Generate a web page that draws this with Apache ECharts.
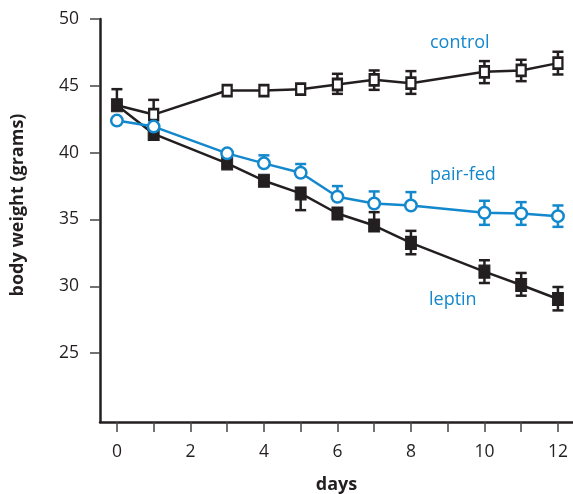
<!DOCTYPE html>
<html><head><meta charset="utf-8">
<script src="https://cdn.jsdelivr.net/npm/echarts@6/dist/echarts.min.js"></script>
<style>html,body{margin:0;padding:0;background:#fff}#c{width:573px;height:494px}</style>
</head><body><div id="c"></div>
<script>
// ---- data ----
const days = [0, 1, 3, 4, 5, 6, 7, 8, 10, 11, 12];

const controlMean    = [43.55, 42.85, 44.65, 44.65, 44.75, 45.1, 45.45, 45.2, 46.05, 46.15, 46.7];
const controlErrUp   = [0, 1.1, 0, 0, 0, 0.8, 0.7, 0.9, 0.8, 0.8, 0.85];
const controlErrDown = [0, 0, 0, 0, 0, 0.7, 0.75, 0.8, 0.85, 0.8, 0.85];

const leptinMean    = [43.55, 41.4, 39.2, 37.9, 36.95, 35.45, 34.55, 33.25, 31.1, 30.1, 29.05];
const leptinErrUp   = [1.2, 0, 0, 0, 0, 0, 1.0, 0.9, 0.85, 0.9, 0.9];
const leptinErrDown = [0, 0, 0, 0, 1.25, 0, 0, 0.85, 0.85, 0.8, 0.85];

const pairMean    = [42.4, 41.95, 39.95, 39.2, 38.5, 36.7, 36.2, 36.05, 35.5, 35.45, 35.25];
const pairErrUp   = [0, 0, 0, 0.6, 0.65, 0.8, 0.9, 1.0, 0.9, 0.85, 0.8];
const pairErrDown = [0, 0, 0, 0, 0, 0, 0, 0, 0.9, 0.85, 0.8];

const xTickValues  = [0, 1, 2, 3, 4, 5, 6, 7, 8, 9, 10, 11, 12];
const xLabelValues = [0, 2, 4, 6, 8, 10, 12];
const yTickValues  = [25, 30, 35, 40, 45, 50];

const seriesNames = ['control', 'pair-fed', 'leptin'];
const xAxisTitle = 'days';
const yAxisTitle = 'body weight (grams)';

// ---- styling ----
const BLACK = '#231f20';
const BLUE = '#1388cc';
const FONT = '"Open Sans", "Noto Sans", sans-serif';

const chart = echarts.init(document.getElementById('c'), null, {renderer: 'canvas'});

function pts(mean) { return days.map((d, i) => [d, mean[i]]); }
function errData(mean, up, down) { return days.map((d, i) => [d, mean[i], up[i], down[i]]); }

function errorSeries(data, color) {
  return {
    type: 'custom',
    z: 1,
    silent: true,
    data: data,
    encode: {x: 0, y: 1},
    renderItem: function (params, api) {
      const x = api.value(0), y = api.value(1), up = api.value(2), down = api.value(3);
      const c = api.coord([x, y]);
      const children = [];
      const half = 5.5;
      const st = {stroke: color, lineWidth: 2.5};
      if (up > 0) {
        const t = api.coord([x, y + up]);
        children.push({type: 'line', shape: {x1: c[0], y1: c[1], x2: t[0], y2: t[1]}, style: st});
        children.push({type: 'line', shape: {x1: t[0] - half, y1: t[1], x2: t[0] + half, y2: t[1]}, style: st});
      }
      if (down > 0) {
        const b = api.coord([x, y - down]);
        children.push({type: 'line', shape: {x1: c[0], y1: c[1], x2: b[0], y2: b[1]}, style: st});
        children.push({type: 'line', shape: {x1: b[0] - half, y1: b[1], x2: b[0] + half, y2: b[1]}, style: st});
      }
      return {type: 'group', children: children};
    }
  };
}

const controlData = pts(controlMean).map((p, i) => i === 0 ? {value: p, symbol: 'none'} : p);

const option = {
  animation: false,
  backgroundColor: '#fff',
  grid: {left: 100, right: 0, top: 19, bottom: 72, containLabel: false, outerBoundsMode: 'none'},
  xAxis: {
    type: 'value',
    min: -0.46, max: 12.41,
    name: xAxisTitle,
    nameLocation: 'middle',
    nameGap: 54,
    nameTextStyle: {fontFamily: FONT, fontSize: 18, fontWeight: 'bold', color: BLACK},
    axisLine: {show: true, onZero: false, lineStyle: {color: BLACK, width: 2.5}},
    axisTick: {show: true, length: 10, customValues: xTickValues, lineStyle: {color: '#444', width: 1.5}},
    axisLabel: {customValues: xLabelValues, margin: 21, fontFamily: FONT, fontSize: 17.5, color: BLACK},
    splitLine: {show: false}
  },
  yAxis: {
    type: 'value',
    min: 19.85, max: 50,
    axisLine: {show: true, onZero: false, lineStyle: {color: BLACK, width: 2.5}},
    axisTick: {show: true, length: 10, customValues: yTickValues, lineStyle: {color: '#444', width: 1.5}},
    axisLabel: {customValues: yTickValues, margin: 21, fontFamily: FONT, fontSize: 17.5, color: BLACK},
    splitLine: {show: false}
  },
  graphic: [
    {type: 'text', x: 18, y: 205, rotation: Math.PI / 2,
     style: {text: yAxisTitle, font: 'bold 18px ' + FONT, fill: BLACK, textAlign: 'center', textVerticalAlign: 'middle'}},
    {type: 'text', x: 430, y: 34, style: {text: seriesNames[0], font: '18px ' + FONT, fill: BLUE}},
    {type: 'text', x: 430, y: 166, style: {text: seriesNames[1], font: '18px ' + FONT, fill: BLUE}},
    {type: 'text', x: 429, y: 291, style: {text: seriesNames[2], font: '18px ' + FONT, fill: BLUE}}
  ],
  series: [
    errorSeries(errData(controlMean, controlErrUp, controlErrDown), BLACK),
    errorSeries(errData(leptinMean, leptinErrUp, leptinErrDown), BLACK),
    errorSeries(errData(pairMean, pairErrUp, pairErrDown), BLUE),
    {
      name: seriesNames[0], type: 'line', z: 2, data: controlData,
      symbol: 'rect', symbolSize: [9, 11],
      lineStyle: {color: BLACK, width: 2.5},
      itemStyle: {color: '#fff', borderColor: BLACK, borderWidth: 2.5}
    },
    {
      name: seriesNames[2], type: 'line', z: 2, data: pts(leptinMean),
      symbol: 'rect', symbolSize: [11, 13],
      lineStyle: {color: BLACK, width: 2.5},
      itemStyle: {color: BLACK, borderColor: BLACK, borderWidth: 1}
    },
    {
      name: seriesNames[1], type: 'line', z: 2, data: pts(pairMean),
      symbol: 'circle', symbolSize: 11.5,
      lineStyle: {color: BLUE, width: 2.5},
      itemStyle: {color: '#fff', borderColor: BLUE, borderWidth: 2.5}
    }
  ]
};
chart.setOption(option);
</script>
</body></html>
